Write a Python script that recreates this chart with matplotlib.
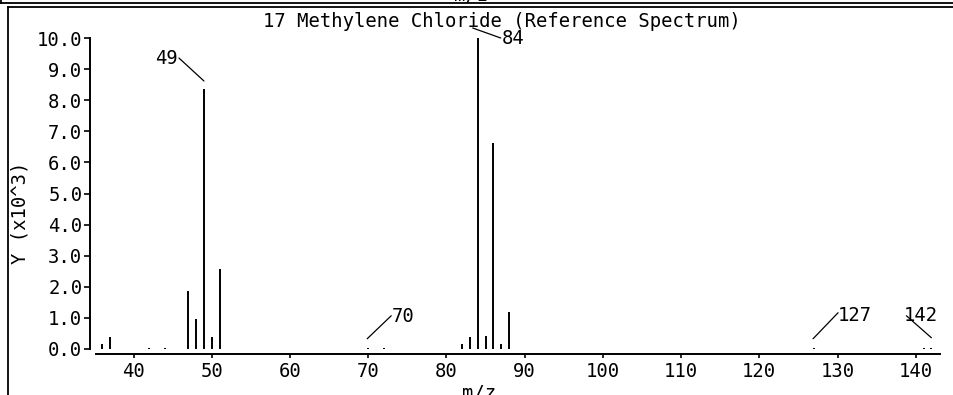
import matplotlib
matplotlib.use("Agg")
import matplotlib.pyplot as plt
from matplotlib.lines import Line2D
from matplotlib.transforms import offset_copy

# spectrum data (m/z and intensity in units of 10^3)
mz = [36, 37, 42, 44, 47, 48, 49, 50, 51, 70, 72, 82, 83, 84, 85, 86, 87, 88, 127, 141, 142]
intensity = [0.15, 0.40, 0.03, 0.03, 1.88, 0.96, 8.36, 0.40, 2.57, 0.04, 0.04,
             0.15, 0.40, 10.0, 0.42, 6.63, 0.17, 1.18, 0.04, 0.03, 0.04]
labeled_peaks = [49, 84, 70, 127, 142]
x_ticks = [40, 50, 60, 70, 80, 90, 100, 110, 120, 130, 140]
y_ticks = [0, 1, 2, 3, 4, 5, 6, 7, 8, 9, 10]

title = "17 Methylene Chloride (Reference Spectrum)"

# label placement in pixels relative to the peak top: text offset, ha, leader line start, leader line end
label_layout = {
    49: ((-26, 31), "right", (0, 8), (-25, 31)),
    84: ((24, -1), "left", (-5, 10), (23, 0)),
    70: ((24, 31), "left", (-1, 9), (23, 32)),
    127: ((24, 32), "left", (-1, 9), (24, 35)),
    142: ((-28, 32), "left", (0, 10), (-25, 32)),
}

W, H = 954, 395
font = "DejaVu Sans Mono"
fs = 13.6
plt.rcParams["font.family"] = font

fig = plt.figure(figsize=(W / 100, H / 100), dpi=100)
ax = fig.add_axes([96 / W, 1 - 349 / H, (940 - 96) / W, (349 - 38) / H])

ax.vlines(mz, 0, intensity, color="black", linewidth=1.4)
ax.set_xlim(35.2, 143.1)
ax.set_ylim(0, 10)

ax.spines["top"].set_visible(False)
ax.spines["right"].set_visible(False)
ax.spines["left"].set_position(("outward", 6 * 0.72))
ax.spines["bottom"].set_position(("outward", 5 * 0.72))
for s in ["left", "bottom"]:
    ax.spines[s].set_linewidth(1.4)

ax.set_xticks(x_ticks)
ax.set_yticks(y_ticks)
ax.set_yticklabels(["%.1f" % v for v in y_ticks])
ax.tick_params(axis="y", direction="out", length=4, width=1.2, pad=1.5, labelsize=fs)
ax.tick_params(axis="x", direction="out", length=3, width=1.2, pad=3, labelsize=fs)

# peak labels with leader lines
for p in labeled_peaks:
    v = intensity[mz.index(p)]
    (tdx, tdy), ha, (sx, sy), (ex, ey) = label_layout[p]
    ax.annotate(str(p), xy=(p, v), xytext=(tdx, tdy), textcoords="offset pixels",
                ha=ha, va="center", fontsize=fs)
    ax.annotate("", xy=(p, v), xycoords=offset_copy(ax.transData, fig=fig, x=sx, y=sy, units="dots"),
                xytext=(p, v), textcoords=offset_copy(ax.transData, fig=fig, x=ex, y=ey, units="dots"),
                arrowprops=dict(arrowstyle="-", color="black", lw=0.9, shrinkA=0, shrinkB=0))

fig.text(502 / W, 1 - 21.5 / H, title, ha="center", va="center", fontsize=fs)
fig.text(479 / W, 1 - 384 / H, "m/z", ha="center", va="top", fontsize=fs)
fig.text(20 / W, 1 - 213 / H, "Y (x10^3)", ha="center", va="center", rotation=90, fontsize=fs)
# bit of the panel above, cut off by the top edge
fig.text(471 / W, 1 - 1 / H, "m/z", ha="center", va="baseline", fontsize=fs)


# frame lines of the panels, given in pixels
def frame_line(x0, y0, x1, y1):
    fig.add_artist(Line2D([x0 / W, x1 / W], [1 - y0 / H, 1 - y1 / H],
                          transform=fig.transFigure, color="black", linewidth=1.3))


frame_line(1, 0, 1, 3)
frame_line(1, 3, W, 3)
frame_line(8, 7, W, 7)
frame_line(8, 7, 8, H)

plt.savefig("out.png", dpi=100)
